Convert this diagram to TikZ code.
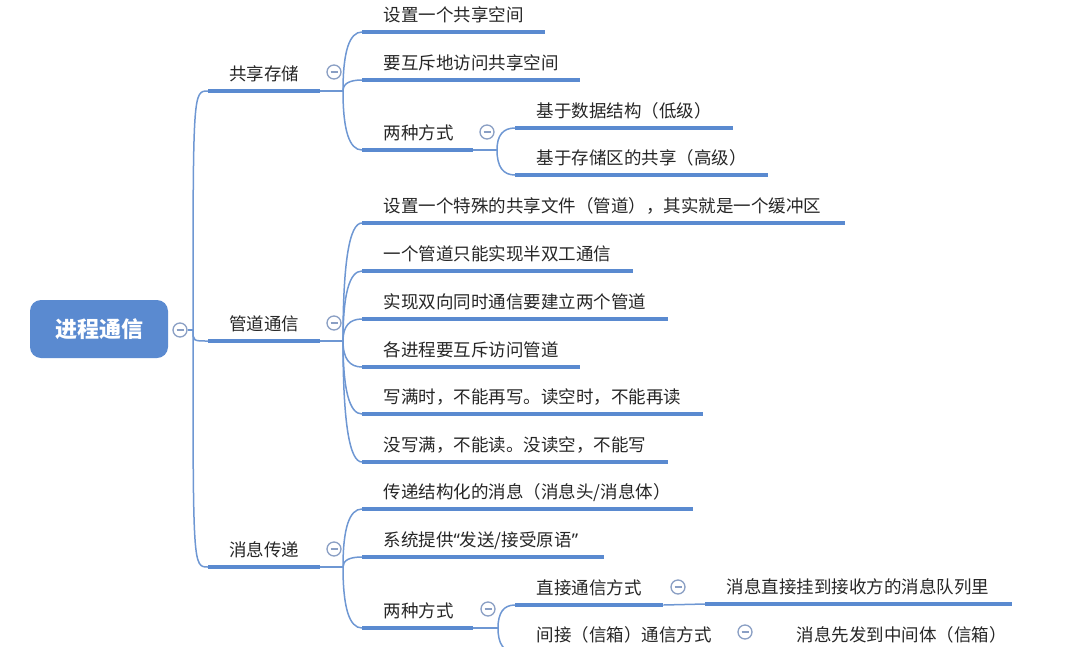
\documentclass[tikz,border=0pt]{standalone}
\usepackage{fontspec}
\setmainfont{Noto Sans CJK SC}
\newfontfamily\quotefont{Noto Sans}
\usetikzlibrary{calc}
\definecolor{mapblue}{HTML}{5A8AD0}
\definecolor{linkblue}{HTML}{6E97D3}
\definecolor{foldgray}{HTML}{8A9FC4}
\definecolor{inkgray}{HTML}{262626}
\tikzset{
  root/.style={fill=mapblue, rounded corners=11pt, minimum width=138pt, minimum height=58pt,
    text=white, font=\fontsize{22}{26}\selectfont\bfseries},
  topic/.style={anchor=south west, inner xsep=0pt, inner ysep=10pt, text height=14pt,
    text depth=0pt, text width=#1, text=inkgray, font=\fontsize{17.5}{21}\selectfont},
  maintopic/.style={topic=#1, align=center},
  subtopic/.style={topic=#1, align=left},
  uline/.style={draw=mapblue, line width=4pt},
  link/.style={draw=linkblue, line width=1.5pt},
  corner/.style={to path={.. controls (\tikztostart |- \tikztotarget) .. (\tikztotarget)}},
  fan/.style={to path={.. controls ($(\tikztostart)!0.667!(\tikztostart |- \tikztotarget)$)
    and ($(\tikztotarget)!0.667!(\tikztostart |- \tikztotarget)$) .. (\tikztotarget)}},
  fold/.style={circle, draw=foldgray, line width=1.3pt, minimum size=14pt, inner sep=0pt,
    fill=white, text=foldgray},
}
\def\minus{\rule[-0.65pt]{7pt}{1.3pt}}
\def\ind{\hspace*{21.5pt}}

\begin{document}
\begin{tikzpicture}[x=1pt, y=-1pt]
  %%%%% START %%%%%
  \clip (0,0) rectangle (1074,646);

  \node[root] (ipc) at (99,329) {进程通信};
  \node[fold] (ipcf) at (180,330) {\minus};
  \coordinate (trunk) at (193,330);

  % first level
  \node[maintopic=112pt] (shm) at (208,91) {共享存储};
  \node[maintopic=112pt] (pipe) at (208,341) {管道通信};
  \node[maintopic=112pt] (msg) at (208,567) {消息传递};
  \node[fold] (shmf) at (334,72) {\minus};
  \node[fold] (pipef) at (334,323) {\minus};
  \node[fold] (msgf) at (334,549) {\minus};
  \coordinate (shmb) at (343,91);
  \coordinate (pipeb) at (343,341);
  \coordinate (msgb) at (343,567);

  % shared memory
  \node[subtopic=183pt] (shm1) at (362,32) {\ind 设置一个共享空间};
  \node[subtopic=218pt] (shm2) at (362,80) {\ind 要互斥地访问共享空间};
  \node[subtopic=111pt] (shm3) at (362,150) {\ind 两种方式};
  \node[fold] (shm3f) at (487,132) {\minus};
  \coordinate (shm3b) at (497,150);
  \node[subtopic=218pt] (shm3a1) at (515,128) {\ind 基于数据结构（低级）};
  \node[subtopic=253pt] (shm3a2) at (515,175) {\ind 基于存储区的共享（高级）};

  % pipe
  \node[subtopic=483pt] (pipe1) at (362,223) {\ind 设置一个特殊的共享文件（管道），其实就是一个缓冲区};
  \node[subtopic=271pt] (pipe2) at (362,271) {\ind 一个管道只能实现半双工通信};
  \node[subtopic=306pt] (pipe3) at (362,319) {\ind 实现双向同时通信要建立两个管道};
  \node[subtopic=218pt] (pipe4) at (362,367) {\ind 各进程要互斥访问管道};
  \node[subtopic=341pt] (pipe5) at (362,414) {\ind 写满时，不能再写。读空时，不能再读};
  \node[subtopic=306pt] (pipe6) at (362,462) {\ind 没写满，不能读。没读空，不能写};

  % message passing
  \node[subtopic=331pt] (msg1) at (362,509) {\ind 传递结构化的消息（消息头/消息体）};
  \node[subtopic=242pt] (msg2) at (362,557) {\ind 系统提供{\quotefont “}发送/接受原语{\quotefont ”}};
  \node[subtopic=111pt] (msg3) at (362,628) {\ind 两种方式};
  \node[fold] (msg3f) at (488,609) {\minus};
  \coordinate (msg3b) at (498,628);
  \node[subtopic=148pt] (msg3a) at (515,605) {\ind 直接通信方式};
  \node[fold] (msg3af) at (678,587) {\minus};
  \node[subtopic=307pt] (msg3a1) at (705,604) {\ind 消息直接挂到接收方的消息队列里};
  \node[subtopic=215pt] (msg3c) at (515,652) {\ind 间接（信箱）通信方式};
  \node[fold] (msg3cf) at (745,632) {\minus};
  \node[subtopic=245pt] (msg3c1) at (775,652) {\ind 消息先发到中间体（信箱）};

  % connectors
  \draw[link] (ipcf) -- (trunk);
  \foreach \t in {shm,pipe,msg}
    \draw[link] (trunk) to[corner] (\t.south west);
  \draw[link] (shm.south east) -- (shmb);
  \foreach \t in {shm1,shm2,shm3}
    \draw[link] (shmb) to[fan] (\t.south west);
  \draw[link] (shm3.south east) -- (shm3b);
  \foreach \t in {shm3a1,shm3a2}
    \draw[link] (shm3b) to[fan] (\t.south west);
  \draw[link] (pipe.south east) -- (pipeb);
  \foreach \t in {pipe1,pipe2,pipe3,pipe4,pipe5,pipe6}
    \draw[link] (pipeb) to[fan] (\t.south west);
  \draw[link] (msg.south east) -- (msgb);
  \foreach \t in {msg1,msg2,msg3}
    \draw[link] (msgb) to[fan] (\t.south west);
  \draw[link] (msg3.south east) -- (msg3b);
  \foreach \t in {msg3a,msg3c}
    \draw[link] (msg3b) to[fan] (\t.south west);
  \draw[link] (msg3a.south east) -- (msg3a1.south west);
  \draw[link] (msg3c.south east) -- (msg3c1.south west);

  % underlines
  \foreach \t in {shm,pipe,msg,shm1,shm2,shm3,shm3a1,shm3a2,pipe1,pipe2,pipe3,pipe4,pipe5,pipe6,
      msg1,msg2,msg3,msg3a,msg3a1,msg3c,msg3c1}
    \draw[uline] (\t.south west) -- (\t.south east);
  %%%%% END %%%%%
\end{tikzpicture}
\end{document}
